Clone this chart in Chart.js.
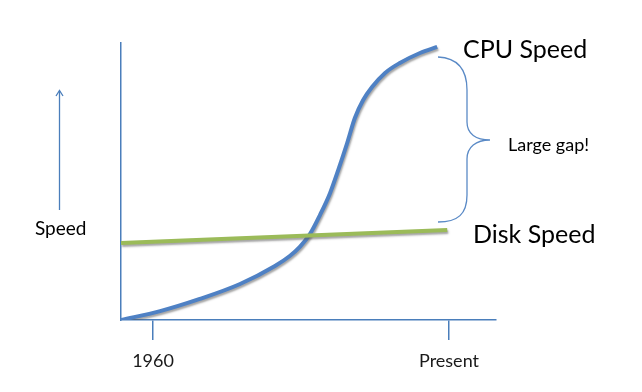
<!DOCTYPE html>
<html>
<head>
<meta charset="utf-8">
<script src="https://cdn.jsdelivr.net/npm/chart.js@4/dist/chart.umd.min.js"></script>
<style>
  html, body { margin: 0; padding: 0; background: #ffffff; }
  #wrap { position: relative; width: 642px; height: 392px; }
  canvas { display: block; }
</style>
</head>
<body>
<div id="wrap"><canvas id="c" width="642" height="392"></canvas></div>
<script>
// ---- data ----
const cpuYears = [1954.6, 1961.2, 1967.9, 1974.7, 1980.6, 1983.1, 1984.8, 1986.5, 1988.2, 1989.9, 1991.3, 1992.8, 1994.1, 1995.5, 1997.0, 1999.2, 2001.7, 2005.1, 2008.0];
const cpuSpeed = [0, 3.2, 7.6, 13.0, 19.5, 23.1, 26.4, 31.0, 37.9, 45.8, 54.2, 63.9, 72.9, 79.4, 84.1, 89.2, 92.8, 96.4, 98.6];
const diskYears = [1954.6, 2009.7];
const diskSpeed = [27.8, 32.5];
const tickYears = [1960, 2010];
const tickLabels = ['1960', 'Present'];
const seriesNames = ['CPU Speed', 'Disk Speed'];
const gapLabel = 'Large gap!';
const axisLabel = 'Speed';

const FONT = 'Lato, "Open Sans", sans-serif';
const AXIS_BLUE = '#4a7ebb';

const toPoints = (xs, ys) => xs.map((x, i) => ({ x: x, y: ys[i] }));

const shadowPlugin = {
  id: 'shadow',
  beforeDatasetDraw(chart) {
    const ctx = chart.ctx;
    ctx.save();
    ctx.shadowColor = 'rgba(90,90,90,0.55)';
    ctx.shadowOffsetX = 1;
    ctx.shadowOffsetY = 2;
    ctx.shadowBlur = 2;
  },
  afterDatasetDraw(chart) {
    chart.ctx.restore();
  }
};

const annotationPlugin = {
  id: 'annotations',
  afterDraw(chart) {
    const ctx = chart.ctx;
    ctx.save();
    // up arrow next to "Speed"
    ctx.strokeStyle = AXIS_BLUE;
    ctx.lineWidth = 1.3;
    ctx.beginPath();
    ctx.moveTo(59.5, 210);
    ctx.lineTo(59.5, 91);
    ctx.stroke();
    ctx.beginPath();
    ctx.moveTo(56, 96);
    ctx.lineTo(59.5, 90.5);
    ctx.lineTo(63, 96);
    ctx.stroke();

    // curly brace
    ctx.lineWidth = 1.3;
    ctx.strokeStyle = '#5a8ac6';
    ctx.beginPath();
    ctx.moveTo(438, 57);
    ctx.bezierCurveTo(458, 58, 467, 70, 467, 90);
    ctx.lineTo(467, 122);
    ctx.bezierCurveTo(467, 134, 476, 140, 490, 140);
    ctx.bezierCurveTo(476, 140, 467, 147, 467, 159);
    ctx.lineTo(467, 195);
    ctx.bezierCurveTo(467, 214, 458, 222, 438, 222);
    ctx.stroke();

    // texts
    ctx.fillStyle = '#000000';
    ctx.textAlign = 'left';
    ctx.textBaseline = 'alphabetic';
    ctx.font = '25px ' + FONT;
    ctx.fillText(seriesNames[0], 463, 58);
    ctx.fillText(seriesNames[1], 473, 243);
    ctx.font = '18px ' + FONT;
    ctx.fillText(gapLabel, 508, 151);
    ctx.font = '19px ' + FONT;
    ctx.fillText(axisLabel, 35, 235);
    ctx.restore();
  }
};

new Chart(document.getElementById('c'), {
  type: 'line',
  data: {
    datasets: [
      {
        label: seriesNames[0],
        data: toPoints(cpuYears, cpuSpeed),
        borderColor: '#4f81c4',
        borderWidth: 4,
        pointRadius: 0,
        cubicInterpolationMode: 'monotone',
        fill: false,
        order: 2
      },
      {
        label: seriesNames[1],
        data: toPoints(diskYears, diskSpeed),
        borderColor: '#9bbb59',
        borderWidth: 4,
        pointRadius: 0,
        fill: false,
        order: 1
      }
    ]
  },
  options: {
    responsive: false,
    animation: false,
    devicePixelRatio: 1,
    layout: { padding: { left: 0, top: 43, right: 146, bottom: 0 } },
    plugins: {
      legend: { display: false },
      tooltip: { enabled: false },
      title: { display: false }
    },
    scales: {
      x: {
        type: 'linear',
        min: 1954.59,
        max: 2017.94,
        afterBuildTicks(scale) {
          scale.ticks = tickYears.map(v => ({ value: v }));
        },
        afterFit(scale) { scale.height = 72; },
        border: { display: true, color: AXIS_BLUE, width: 1.5 },
        grid: {
          drawOnChartArea: false,
          drawTicks: true,
          tickLength: 20,
          color: AXIS_BLUE,
          lineWidth: 1.5
        },
        ticks: {
          autoSkip: false,
          maxRotation: 0,
          padding: 10,
          color: '#1a1a1a',
          font: { family: FONT, size: 18 },
          callback(value) {
            const i = tickYears.indexOf(value);
            return i >= 0 ? tickLabels[i] : '';
          }
        }
      },
      y: {
        type: 'linear',
        min: 0,
        max: 100,
        afterFit(scale) { scale.width = 121; },
        border: { display: true, color: AXIS_BLUE, width: 1.5 },
        grid: { drawOnChartArea: false, drawTicks: false },
        ticks: { display: false }
      }
    }
  },
  plugins: [shadowPlugin, annotationPlugin]
});
</script>
</body>
</html>
